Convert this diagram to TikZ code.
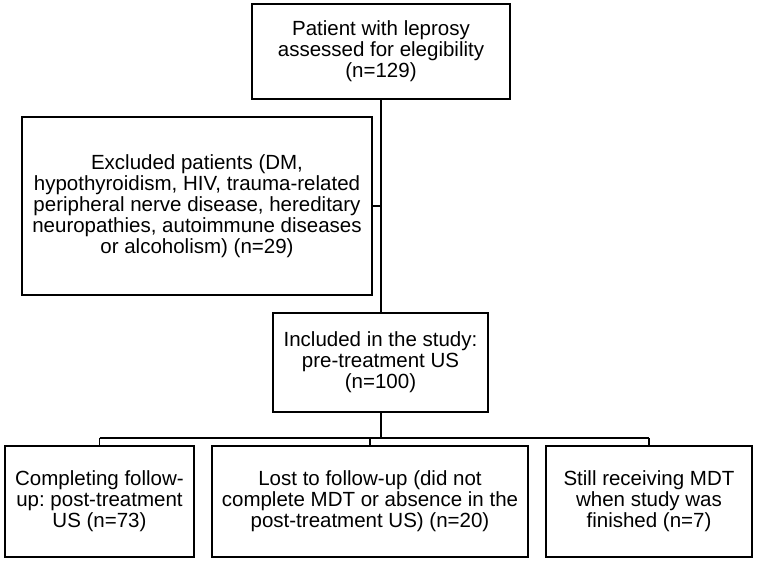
\documentclass[tikz,border=0pt]{standalone}
\usepackage{fontspec}
\setmainfont{Liberation Sans}
\usetikzlibrary{positioning, calc}
\frenchspacing

\begin{document}
\begin{tikzpicture}[x=1pt, y=-1pt,
	box/.style={draw, line width=1.7pt, align=center, inner sep=0pt, font=\fontsize{20.5}{21}\selectfont},
	outcome/.style={box, minimum height=111pt},
	link/.style={line width=1.7pt}]
	\useasboundingbox (0,0) rectangle (761,563);

	% screening boxes
	\node[box, minimum width=258pt, minimum height=95pt] (assessed) at (381,51.5)
		{Patient with leprosy\\assessed for elegibility\\(n=129)};
	\node[box, minimum width=350pt, minimum height=178pt] (excluded) at (197,206)
		{Excluded patients (DM,\\hypothyroidism, HIV, trauma-related\\peripheral nerve disease, hereditary\\neuropathies, autoimmune diseases\\or alcoholism) (n=29)};
	\node[box, minimum width=215pt, minimum height=99pt] (included) at (380.5,362.5)
		{Included in the study:\\pre-treatment US\\(n=100)};

	% outcome boxes
	\node[outcome, minimum width=189pt] (completed) at (99.5,501.5)
		{Completing follow-\\up: post-treatment\\US (n=73)};
	\node[outcome, minimum width=316pt] (lost) at (370,501.5)
		{Lost to follow-up (did not\\complete MDT or absence in the\\post-treatment US) (n=20)};
	\node[outcome, minimum width=206pt] (ongoing) at (649,501.5)
		{Still receiving MDT\\when study was\\finished (n=7)};

	% connectors
	\draw[link] (assessed.south) -- (assessed.south |- included.north);
	\draw[link] (excluded.east) -- (excluded.east -| assessed.south);
	\coordinate (split) at ($(assessed.south |- included.south)+(0,25)$);
	\draw[link] (assessed.south |- included.south) -- (split);
	\draw[link] (completed.north |- split) -- (ongoing.north |- split);
	\foreach \b in {completed, lost, ongoing} {
		\draw[link] (\b.north |- split) -- (\b.north);
	}

\end{tikzpicture}
\end{document}
